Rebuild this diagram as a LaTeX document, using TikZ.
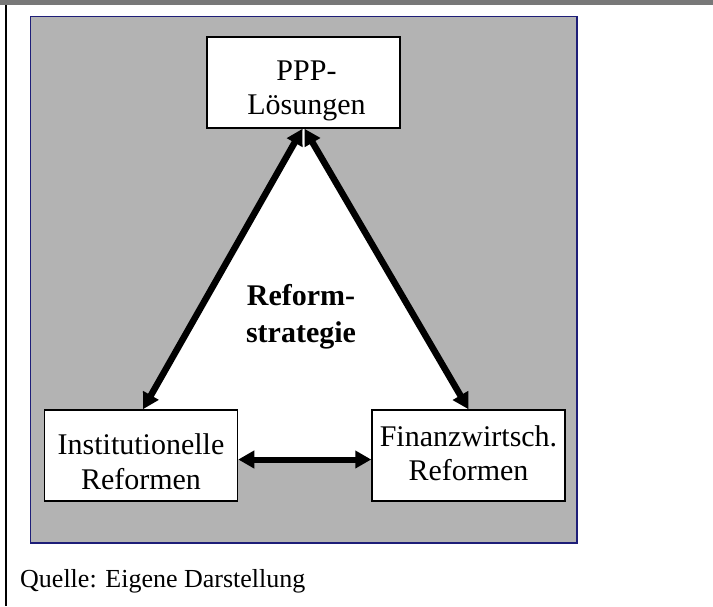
\documentclass[tikz,border=0pt]{standalone}
\usepackage{fontspec}
\setmainfont{Liberation Serif}
\usetikzlibrary{arrows.meta}
\definecolor{topbar}{HTML}{787878}
\definecolor{panel}{HTML}{B3B3B3}
\definecolor{panelline}{HTML}{1E1E78}
\begin{document}
\begin{tikzpicture}[x=1pt,y=-1pt,
  box/.style={draw=black, line width=1.5pt, fill=white, minimum width=193pt,
    minimum height=91pt, inner sep=0pt, align=center,
    font=\fontsize{30}{34.5}\selectfont},
  link/.style={line width=6.5pt,
    {Triangle[length=16pt,width=17pt]}-{Triangle[length=16pt,width=17pt]}},
  hlink/.style={line width=6pt,
    {Triangle[length=16pt,width=17pt]}-{Triangle[length=16pt,width=17pt]}}
]
\useasboundingbox (0,0) rectangle (713,606);
\fill[white] (0,0) rectangle (713,606);
\fill[topbar] (0,0) rectangle (713,5);
\draw[line width=2pt] (6,5) -- (6,606);
\draw[panelline, line width=1.2pt, fill=panel] (30.5,16.5) rectangle (577,543);
\fill[white] (304,128) -- (143,410) -- (143,459.5) -- (468,459.5) -- (468,410) -- cycle;

\node[box] (ppp) at (303.5,82.5) {\hspace*{6pt}\rule{0pt}{36.5pt}PPP-\\\hspace*{6pt}Lösungen};
\node[box] (inst) at (141,455.5) {\rule{0pt}{33pt}Institutionelle\\Reformen};
\node[box] (fin) at (468.5,455.5) {Finanzwirtsch.\\Reformen\rule[-4.5pt]{0pt}{4.5pt}};

\node[align=center, inner sep=0pt, font=\bfseries\fontsize{30}{37}\selectfont]
  (rs) at (301,316.5) {Reform-\\strategie};

\node[anchor=base west, inner sep=0pt, font=\fontsize{26}{30}\selectfont]
  (src) at (20,587) {Quelle: Eigene Darstellung};

\draw[link] ([xshift=-1pt]ppp.south) -- ([xshift=2pt]inst.north);
\draw[link] ([xshift=1pt]ppp.south) -- (fin.north);
\draw[hlink] ([yshift=-4pt]inst.east) -- ([yshift=-4pt]fin.west);
\end{tikzpicture}
\end{document}
